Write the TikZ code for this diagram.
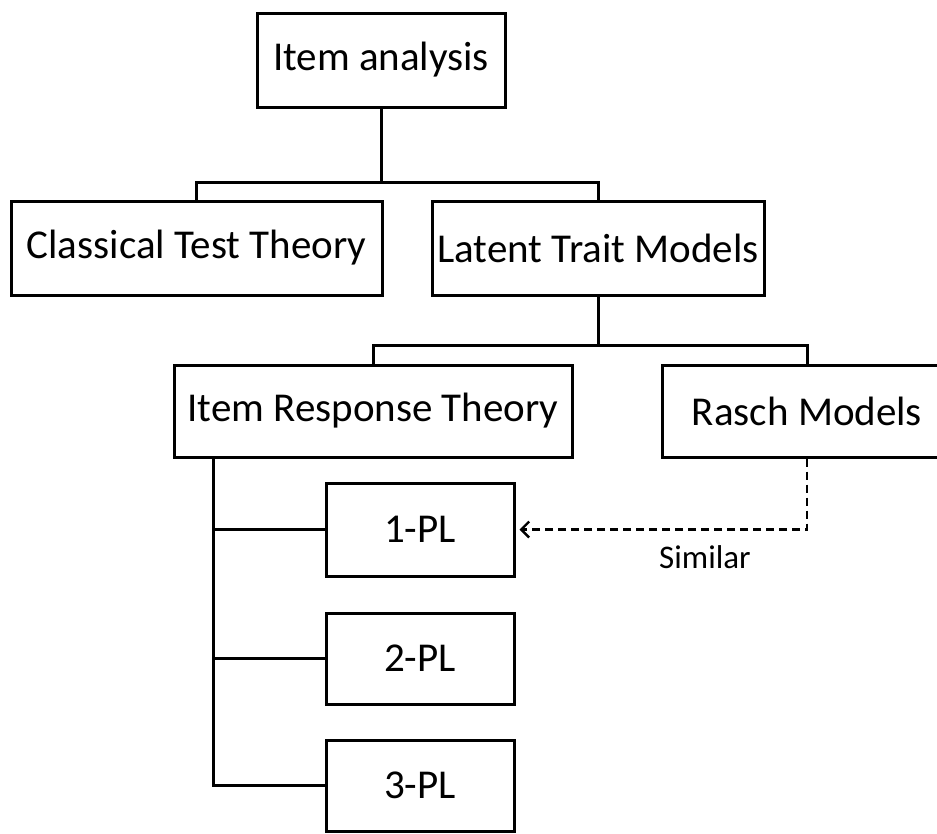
\documentclass[tikz,border=0pt]{standalone}
\usepackage{fontspec}
\setmainfont{Carlito}
\usetikzlibrary{arrows.meta}
\tikzset{
  box/.style={draw=black, line width=3pt, rectangle, inner sep=0pt, align=center,
    font=\fontsize{41}{49}\selectfont},
  conn/.style={draw=black, line width=3pt, line cap=rect},
  simarrow/.style={draw=black, line width=2.4pt, dash pattern=on 8pt off 5pt,
    -{Straight Barb[length=8pt,width=16pt,line width=2.4pt]}},
  lbl/.style={font=\fontsize{33}{39}\selectfont, inner sep=0pt}
}
\begin{document}
\begin{tikzpicture}[x=1pt,y=-1pt]
\useasboundingbox (0,0) rectangle (937,833);
\clip (0,0) rectangle (937,833);
\fill[white] (0,0) rectangle (937,833);

\node[box, minimum width=248pt, minimum height=94pt] (ia) at (381,60) {Item analysis};
\node[box, minimum width=371pt, minimum height=94pt] (ctt) at (196.5,248) {Classical Test Theory};
\node[box, minimum width=332pt, minimum height=94pt] (ltm) at (598,248) {Latent Trait Models};
\node[box, minimum width=398pt, minimum height=92pt] (irt) at (373,411) {Item Response Theory};
\node[box, minimum width=290pt, minimum height=92pt] (rasch) at (807,411) {Rasch Models};
\node[box, minimum width=188pt, minimum height=93pt] (pl1) at (420,529.5) {1-PL};
\node[box, minimum width=188pt, minimum height=91pt] (pl2) at (420,658.5) {2-PL};
\node[box, minimum width=188pt, minimum height=91pt] (pl3) at (420,785.5) {3-PL};

\coordinate (j1) at (381,182);
\coordinate (j2) at (598,345);
\coordinate (irtx) at (213,457);

\draw[conn] (ia.south) -- (j1);
\draw[conn] (ctt.north) |- (j1) -| (ltm.north);
\draw[conn] (ltm.south) -- (j2);
\draw[conn] (irt.north) |- (j2) -| (rasch.north);
\draw[conn] (irtx) |- (pl3.west);
\draw[conn] (irtx |- pl1.west) -- (pl1.west);
\draw[conn] (irtx |- pl2.west) -- (pl2.west);

\draw[simarrow] (rasch.south) |- ([xshift=4pt]pl1.east);
\node[lbl] (sim) at (705,557) {Similar};
\end{tikzpicture}
\end{document}
